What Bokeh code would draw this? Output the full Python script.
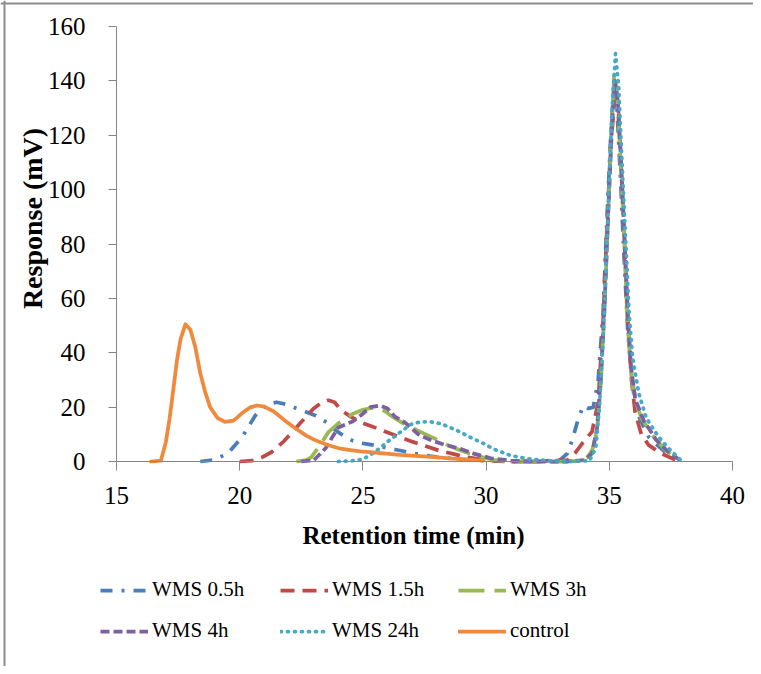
import math
from bokeh.plotting import figure
from bokeh.models import Range1d, FixedTicker, Legend, LegendItem, Span, Label
from bokeh.embed import file_html
from bokeh.resources import INLINE

# ---------------- data ----------------
x_ticks = [15, 20, 25, 30, 35, 40]
y_ticks = [0, 20, 40, 60, 80, 100, 120, 140, 160]
x_title = "Retention time (min)"
y_title = "Response (mV)"

labels = ["WMS 0.5h", "WMS 1.5h", "WMS 3h", "WMS 4h", "WMS 24h", "control"]

wms05_x = [18.4, 18.9, 19.5, 20.1, 20.64, 21.1, 21.5, 21.9, 22.26, 22.7, 23.1, 23.6, 23.9, 24.3,
           24.6, 25.0, 25.5, 26.3, 27.3, 28.0, 29.0, 30.0, 31.0, 32.0, 33.0, 33.3, 33.5, 33.75,
           33.95, 34.15, 34.35, 34.55, 34.75, 34.9, 35.05, 35.18, 35.3, 35.45, 35.6, 35.75, 35.9,
           36.15, 36.6, 37.2, 37.85]
wms05_y = [0, 0.5, 2.8, 9, 17, 21, 21.8, 21, 19.7, 18.2, 16.8, 14, 11.4, 9,
           7.6, 6.7, 5.9, 4.4, 2.6, 1.6, 0.8, 0.3, 0, 0, 0.5, 3, 8, 16,
           20.5, 19.5, 20, 30, 55, 88, 118, 138, 132, 105, 75, 48, 32,
           17.5, 9, 4, 0.3]

wms15_x = [20.0, 20.5, 20.9, 21.3, 21.8, 22.2, 22.6, 23.0, 23.3, 23.6, 23.85, 24.1, 24.5, 24.9,
           25.4, 25.9, 26.5, 27.0, 27.6, 28.1, 28.7, 29.2, 29.8, 30.3, 31.0, 32.0, 33.3, 33.6,
           33.9, 34.3, 34.55, 34.75, 34.9, 35.05, 35.25, 35.38, 35.5, 35.62, 35.75, 35.9, 36.05,
           36.3, 36.6, 37.1, 37.7]
wms15_y = [0, 0.3, 1.5, 3.5, 7.5, 11.5, 15.5, 19.5, 21.5, 22.5, 21.8, 19, 16.5, 14.5,
           12.8, 11, 9, 7.3, 5.5, 4, 2.7, 1.6, 0.8, 0.3, 0, 0, 0.5, 3,
           6.6, 11, 22, 52, 85, 115, 137, 128, 105, 80, 52, 30, 18,
           10, 6, 3, 0.5]

wms3_x = [22.3, 22.7, 22.9, 23.1, 23.3, 23.6, 24.0, 24.3, 24.6, 25.0, 25.3, 25.6, 25.9, 26.2,
          26.6, 26.9, 27.4, 27.9, 28.4, 28.9, 29.3, 29.8, 30.3, 31.0, 32.0, 33.3, 33.8, 34.1,
          34.3, 34.5, 34.65, 34.8, 34.95, 35.08, 35.2, 35.32, 35.45, 35.6, 35.72, 35.85, 36.0,
          36.3, 36.8, 37.3, 37.85]
wms3_y = [0, 0.5, 1.5, 4, 6.6, 10.8, 14, 15.8, 17.6, 19, 19.6, 19.7, 18.5, 16.5,
          14.2, 12.8, 10.6, 8.5, 6.2, 4.3, 3, 1.7, 0.6, 0, 0, 0, 0.3, 1.5,
          4, 11, 28, 55, 90, 120, 143, 135, 112, 84, 55, 36, 24,
          16, 9, 4, 0.5]

wms4_x = [22.5, 23.0, 23.2, 23.5, 23.8, 24.0, 24.6, 25.0, 25.3, 25.7, 26.0, 26.3, 26.7, 27.3,
          27.8, 28.3, 28.9, 29.5, 30.2, 31.0, 32.0, 33.3, 34.0, 34.3, 34.5, 34.65, 34.8, 34.95,
          35.1, 35.22, 35.35, 35.48, 35.62, 35.75, 35.88, 36.05, 36.4, 36.9, 37.4, 37.9]
wms4_y = [0, 0.4, 2.2, 5, 9.6, 12.5, 14.8, 17.6, 20, 20.6, 19.5, 16.5, 14.4, 9.6,
          7.7, 6.2, 4.8, 2.9, 1.2, 0.3, 0, 0, 0.5, 3, 12, 30, 56, 90,
          122, 140, 132, 110, 82, 54, 35, 23, 15, 8, 3.5, 0.3]

wms24_x = [24.0, 24.5, 25.0, 25.4, 25.7, 26.0, 26.4, 26.7, 26.9, 27.3, 27.7, 28.2, 28.8, 29.4,
           29.9, 30.3, 31.0, 31.7, 32.5, 33.5, 34.2, 34.45, 34.6, 34.8, 34.95, 35.1, 35.25,
           35.38, 35.5, 35.65, 35.8, 35.95, 36.2, 36.5, 37.0, 37.5, 37.9]
wms24_y = [0, 0.2, 0.8, 3, 5, 7.3, 10, 12, 13.5, 14.5, 14.7, 13.8, 11.5, 8.7,
           6.6, 4.6, 2.2, 1, 0.3, 0, 0.3, 5, 20, 55, 92, 128, 150,
           138, 113, 84, 55, 38, 25, 16, 9, 4, 0.5]

control_x = [16.4, 16.8, 17.0, 17.15, 17.3, 17.45, 17.6, 17.8, 18.0, 18.2, 18.4, 18.6, 18.8,
             19.1, 19.4, 19.75, 20.1, 20.4, 20.7, 21.0, 21.4, 21.8, 22.2, 22.7, 23.1, 23.6,
             24.1, 24.5, 24.9, 25.5, 26.5, 27.6, 28.8, 29.9]
control_y = [0, 0.3, 7, 15.5, 26, 37, 45, 50.5, 48.5, 42, 32.5, 25.5, 20,
             16, 14.6, 15, 17.8, 19.8, 20.6, 20.2, 18.3, 15.3, 12.6, 9.5, 7.7, 6,
             4.7, 4.2, 3.7, 3.3, 2.4, 1.8, 1.0, 0.3]

series_x = [wms05_x, wms15_x, wms3_x, wms4_x, wms24_x, control_x]
series_y = [wms05_y, wms15_y, wms3_y, wms4_y, wms24_y, control_y]

# ---------------- styles / layout ----------------
colors = ["#4A7EBB", "#BE4B48", "#98B954", "#7D60A0", "#46AAC5", "#F0893B"]
dashes = ["12 9 3 9", "14 8", "26 10", "9 4", "1 6", "solid"]
caps = ["butt", "butt", "butt", "butt", "round", "round"]
# legend boxes: (x, y) of bottom-left corner in px from the frame's bottom-left
legend_pos = [(100, 64), (280, 64), (458, 64), (100, 23), (280, 23), (458, 23)]

FONT = "Liberation Serif"
AXIS_COLOR = "#868686"

W, H = 753, 666                 # figure size (the frame fills it)
AX_LEFT_PX, AX_TOP_PX = 116, 26  # where x=15 / y=160 sit
PX_PER_X = 24.64
PX_PER_Y = 2.71875
X0, X1 = x_ticks[0], x_ticks[-1]
Y0, Y1 = y_ticks[0], y_ticks[-1]
x_start = X0 - AX_LEFT_PX / PX_PER_X
x_end = x_start + W / PX_PER_X
y_end = Y1 + AX_TOP_PX / PX_PER_Y
y_start = y_end - H / PX_PER_Y


def px_to_x(px):
    return x_start + px / PX_PER_X


def py_to_y(py):
    return y_end - py / PX_PER_Y


p = figure(frame_width=W, frame_height=H, output_backend="svg", toolbar_location=None,
           x_range=Range1d(x_start, x_end), y_range=Range1d(y_start, y_end),
           min_border_left=0, min_border_top=0, min_border_right=0,
           min_border_bottom=0)
p.grid.visible = False
p.outline_line_color = None
p.background_fill_color = "white"
p.border_fill_color = "white"

for ax in (p.xaxis[0], p.yaxis[0]):
    ax.axis_line_color = AXIS_COLOR
    ax.major_tick_line_color = AXIS_COLOR
    ax.minor_tick_line_color = None
    ax.major_tick_in = 0
    ax.major_label_text_font = FONT
    ax.major_label_text_font_size = "25px"
    ax.major_label_text_color = "black"

p.xaxis.fixed_location = Y0
p.yaxis.fixed_location = X0
p.xaxis.bounds = (X0, X1)
p.yaxis.bounds = (Y0, Y1)
p.xaxis.ticker = FixedTicker(ticks=x_ticks)
p.yaxis.ticker = FixedTicker(ticks=y_ticks)
p.xaxis.major_tick_out = 9
p.yaxis.major_tick_out = 8
p.xaxis.major_label_standoff = 16
p.yaxis.major_label_standoff = 23

# axis titles (placed where the reference has them)
p.add_layout(Label(x=px_to_x(413), y=py_to_y(535), text=x_title,
                   text_font=FONT, text_font_style="bold", text_font_size="25px",
                   text_color="black", text_align="center", text_baseline="middle"))
p.add_layout(Label(x=px_to_x(32), y=py_to_y(218), text=y_title, angle=math.pi / 2,
                   text_font=FONT, text_font_style="bold", text_font_size="28px",
                   text_color="black", text_align="center", text_baseline="middle"))

# outer frame lines (top and left edges of the original picture)
p.add_layout(Span(location=px_to_x(4), dimension="height",
                  line_color="#8C8C8C", line_width=2))
p.add_layout(Span(location=py_to_y(3), dimension="width",
                  line_color="#8C8C8C", line_width=2))

renderers = []
for xs, ys, c, d, cap in zip(series_x, series_y, colors, dashes, caps):
    r = p.line(xs, ys, line_color=c, line_width=3.75, line_dash=d, line_cap=cap,
               line_join="round")
    renderers.append(r)

for r, lab, loc in zip(renderers, labels, legend_pos):
    leg = Legend(items=[LegendItem(label=lab, renderers=[r])], location=loc,
                 glyph_width=48, glyph_height=22, label_height=22, label_standoff=4,
                 padding=0, margin=0, spacing=0, border_line_color=None,
                 background_fill_alpha=0, label_text_font=FONT,
                 label_text_font_size="21px", label_text_color="black")
    p.add_layout(leg, "center")

open("out.html", "w").write(file_html(p, INLINE))
